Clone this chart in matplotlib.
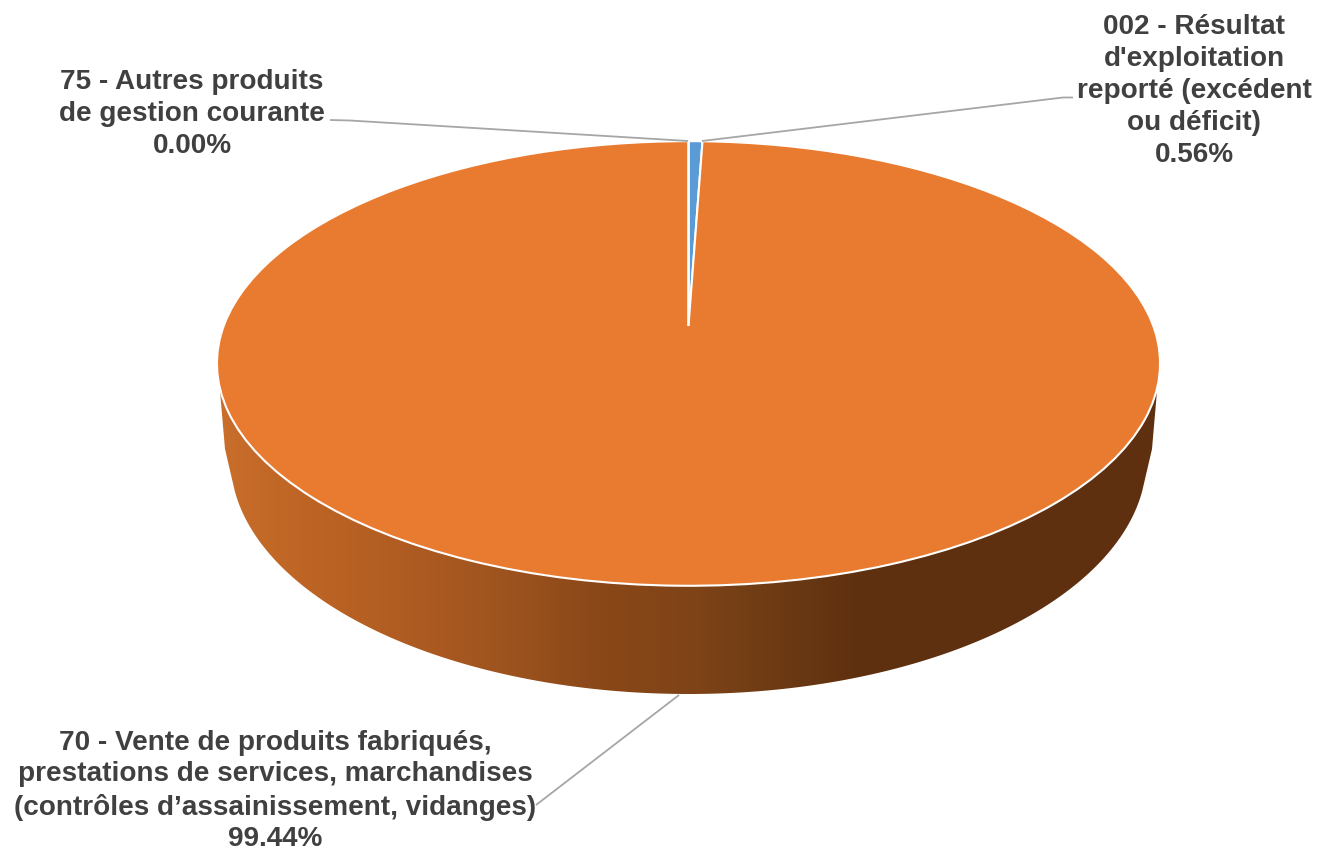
import matplotlib
matplotlib.use("Agg")
import matplotlib.pyplot as plt
import numpy as np
from matplotlib.colors import LinearSegmentedColormap
from matplotlib.patches import Polygon
from matplotlib.transforms import Transform

plt.rcParams['font.family'] = ['Liberation Sans', 'DejaVu Sans']

categories = [
    "002 - Résultat\nd'exploitation\nreporté (excédent\nou déficit)",
    "70 - Vente de produits fabriqués,\nprestations de services, marchandises\n(contrôles d’assainissement, vidanges)",
    "75 - Autres produits\nde gestion courante",
]
shares = [0.56, 99.44, 0.00]
slice_colors = ['#5B9BD5', '#E97B30', '#A5A5A5']

label_pos = [(1194, 91), (275, 791), (192, 114)]
leaders = [
    [(702, 142), (1063, 98.5), (1073, 98.5)],
    [(536, 806), (679, 696)],
    [(330, 121), (350, 121.5), (688, 142)],
]

# wall shading, left to right
wall_x = [218, 300, 400, 500, 600, 700, 780, 860, 1160]
wall_colors = ['#C96E2B', '#BE6525', '#B05C22', '#9E541F', '#8A4718',
               '#7E4317', '#6C3A14', '#5F300F', '#5F300F']


class TiltedDisc(Transform):
    # unit disc seen in perspective, the centre sits above the middle of the ellipse
    input_dims = 2
    output_dims = 2

    def __init__(self, cx, cy, sx, sy, k):
        super().__init__()
        self.cx, self.cy, self.sx, self.sy, self.k = cx, cy, sx, sy, k

    def transform_non_affine(self, xy):
        xy = np.asarray(xy, dtype=float)
        w = 1 + self.k * xy[:, 1]
        return np.column_stack([self.cx + self.sx * xy[:, 0] / w,
                                self.cy - self.sy * xy[:, 1] / w])


def rim(cx, cy, a, b, y_from):
    # lower arc of an ellipse, left to right, starting at height y_from
    start = np.arcsin((y_from - cy) / b)
    t = np.linspace(np.pi - start, start, 200)
    return np.column_stack([cx + a * np.cos(t), cy + b * np.sin(t)])


fig = plt.figure(figsize=(13.19, 8.53), dpi=100)
ax = fig.add_axes([0, 0, 1, 1])

wedges, _ = ax.pie(shares, colors=slice_colors, startangle=90, counterclock=False,
                   wedgeprops={'edgecolor': 'white', 'linewidth': 1.5})
ax.set_aspect('auto')
ax.axis('off')

disc = TiltedDisc(688.5, 327, 464.8, 216, 0.1685)
for w in wedges:
    w.set_transform(disc + ax.transData)
    w.set_zorder(3)

# side wall of the disc, the upper ends stay hidden behind the top face
top_rim = rim(688.5, 364.5, 470.5, 222.5, 375)
bottom_rim = rim(688.5, 460, 458, 235, 492)
left_side = [(225, 450)]
right_side = [(1152, 450)]
wall = Polygon(np.vstack([top_rim, right_side, bottom_rim[::-1], left_side]), closed=True,
               facecolor='none', edgecolor='none')
ax.add_patch(wall)

stops = [(x - wall_x[0]) / (wall_x[-1] - wall_x[0]) for x in wall_x]
cmap = LinearSegmentedColormap.from_list('wall', list(zip(stops, wall_colors)))
im = ax.imshow(np.linspace(0, 1, 512).reshape(1, -1), cmap=cmap, aspect='auto',
               extent=(wall_x[0], wall_x[-1], 853, 0), zorder=1)
im.set_clip_path(wall)
ax.set_xlim(0, 1319)
ax.set_ylim(853, 0)

for pts in leaders:
    xs, ys = zip(*pts)
    ax.plot(xs, ys, color='#A6A6A6', lw=1.3, zorder=4, solid_capstyle='butt')

for name, share, (x, y) in zip(categories, shares, label_pos):
    ax.text(x, y, f"{name}\n{share:.2f}%", ha='center', va='center', ma='center',
            fontsize=20.1, fontweight='bold', color='#404040', linespacing=1.29, zorder=5)

fig.savefig('out.png', dpi=100)
